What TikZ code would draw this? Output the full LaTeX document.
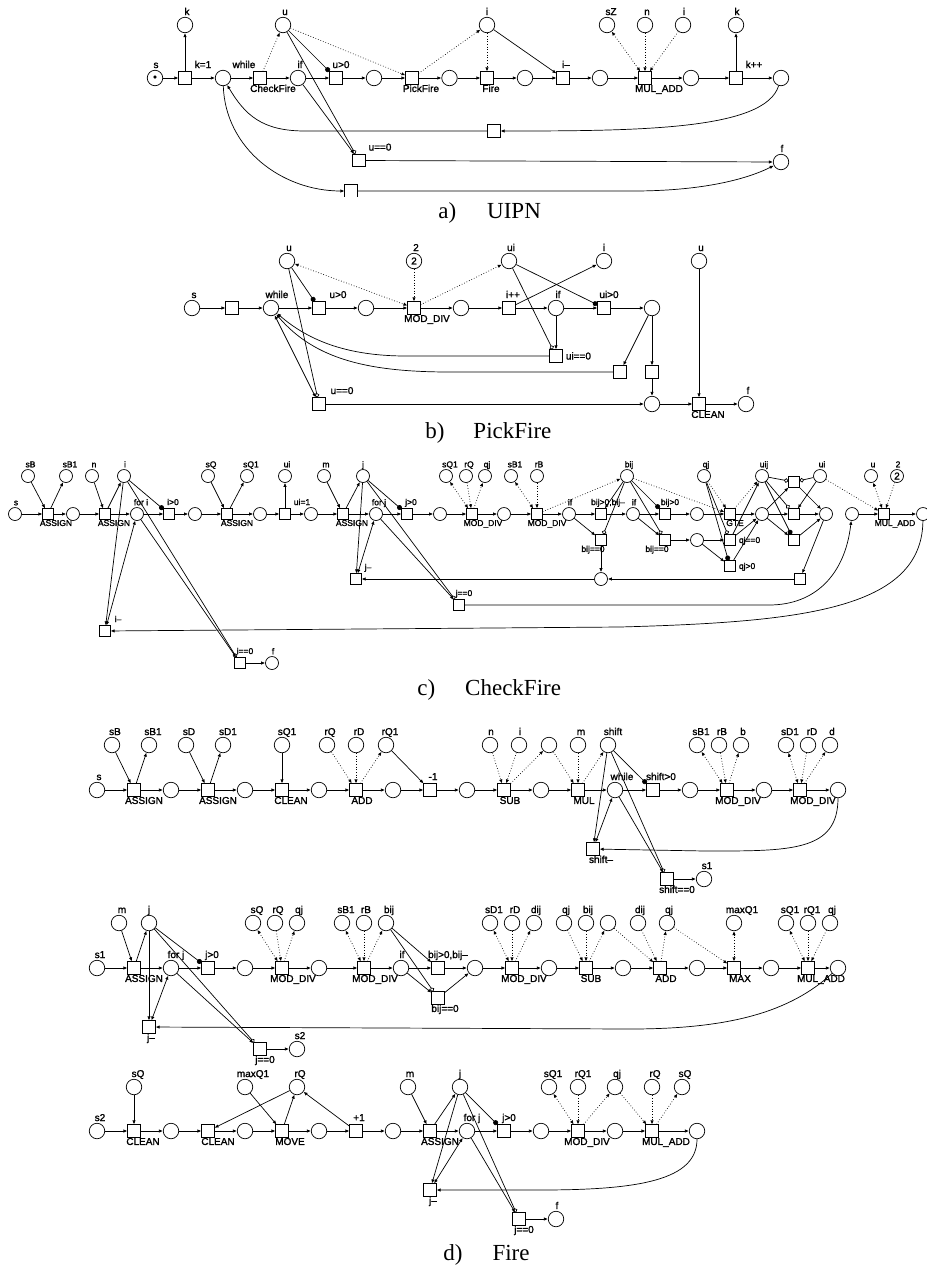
\documentclass[tikz,border=0pt]{standalone}
\usepackage{fontspec}
\setmainfont{Liberation Serif}
\newfontfamily\lblfont[Ligatures=TeX,FakeBold=1.5]{Liberation Sans}
\usetikzlibrary{positioning,arrows.meta}

\begin{document}
\begin{tikzpicture}[
        x=1pt, y=-1pt, on grid,
        >={Latex[length=4pt,width=3.4pt]},
        line width=0.7pt,
        every label/.style={font=\lblfont\fontsize{10}{12}\selectfont, inner sep=0pt, text height=7pt, text depth=0pt},
        place/.style={draw, circle, minimum size=15.5pt, inner sep=0pt, font=\lblfont\fontsize{10}{12}\selectfont},
        trans/.style={draw, rectangle, minimum size=12.5pt, inner sep=0pt},
        plab/.style 2 args={label={[anchor=south, xshift=#1pt, yshift=1.5pt]north:#2}},
        ulab/.style 2 args={label={[anchor=south, xshift=#1pt, yshift=3pt]north:#2}},
        tlab/.style 2 args={label={[anchor=north, xshift=#1pt]south:#2}},
        rlab/.style={label={[anchor=west, xshift=3pt]east:#1}},
        capt/.style={font=\fontsize{23}{25}\selectfont, anchor=base west, inner sep=0pt},
        arrow/.style={->},
        both/.style={<->},
        dotarrow/.style={->, dotted},
        dotboth/.style={<->, dotted},
        readdot/.style={-{Circle[length=5pt]}},
        readopen/.style={-{Circle[open, length=4.5pt, fill=white]}}
    ]
        \useasboundingbox (0,0) rectangle (927,1270);

        % a) main row
        \node[place, plab={1}{s}] (u1) at (155,78) {\textbullet};
        \node[trans, ulab={18}{k=1}, right=30pt of u1] (u2) {};
        \node[place, plab={21}{while}, right=38pt of u2] (u3) {};
        \node[trans, tlab={13}{CheckFire}, right=37pt of u3] (u4) {};
        \node[place, plab={2}{if}, right=38pt of u4] (u5) {};
        \node[trans, ulab={5}{u>0}, right=38pt of u5] (u6) {};
        \node[place, right=38pt of u6] (u7) {};
        \node[trans, tlab={9}{PickFire}, right=38pt of u7] (u8) {};
        \node[place, right=37.5pt of u8] (u9) {};
        \node[trans, tlab={4}{Fire}, right=37.5pt of u9] (u10) {};
        \node[place, right=38pt of u10] (u11) {};
        \node[trans, ulab={3}{i--}, right=38pt of u11] (u12) {};
        \node[place, right=37pt of u12] (u13) {};
        \node[trans, tlab={14}{MUL\_ADD}, right=45pt of u13] (u14) {};
        \node[place, right=46pt of u14] (u15) {};
        \node[trans, ulab={18}{k++}, right=45pt of u15] (u16) {};
        \node[place, right=45pt of u16] (u17) {};

        % a) variables and lower transitions
        \node[place, plab={2}{k}, above=53pt of u2] (uk) {};
        \node[place, plab={2}{u}, above right=53pt and 23pt of u4] (uu) {};
        \node[place, plab={0}{i}, above=53pt of u10] (ui) {};
        \node[place, plab={4}{sZ}, above left=53pt and 38pt of u14] (usz) {};
        \node[place, plab={2}{n}, above=53pt of u14] (un) {};
        \node[place, plab={1}{i}, above right=53pt and 38pt of u14] (ui2) {};
        \node[place, plab={1}{k}, above=53pt of u16] (uk2) {};
        \node[trans, below right=53pt and 7pt of u10] (uret) {};
        \node[trans, ulab={21}{u==0}, below right=82.5pt and 23pt of u6] (uzero) {};
        \node[trans, below right=113pt and 15pt of u6] (ulow) {};
        \node[place, plab={1}{f}, below=84pt of u17] (uf) {};

        % a) edges
        \draw[arrow] (u1) -- (u2);
        \draw[arrow] (u2) -- (uk);
        \draw[arrow] (u2) -- (u3);
        \draw[arrow] (u3) -- (u4);
        \draw[arrow] (u4) -- (u5);
        \draw[arrow] (u5) -- (u6);
        \draw[arrow] (u6) -- (u7);
        \draw[arrow] (u7) -- (u8);
        \draw[arrow] (u8) -- (u9);
        \draw[arrow] (u9) -- (u10);
        \draw[arrow] (u10) -- (u11);
        \draw[arrow] (u11) -- (u12);
        \draw[arrow] (u12) -- (u13);
        \draw[arrow] (u13) -- (u14);
        \draw[arrow] (u14) -- (u15);
        \draw[arrow] (u15) -- (u16);
        \draw[arrow] (u16) -- (u17);
        \draw[arrow] (u16) -- (uk2);
        \draw[dotarrow] (u4) -- (uu);
        \draw[dotarrow] (uu) -- (u8);
        \draw[dotarrow] (u8) -- (ui);
        \draw[dotarrow] (ui) -- (u10);
        \draw[arrow] (ui) -- (u12);
        \draw[readdot] (uu) -- (u6);
        \draw[readopen] (uu) -- (uzero);
        \draw[arrow] (u5) -- (uzero);
        \draw[dotboth] (usz) -- (u14);
        \draw[dotarrow] (un) -- (u14);
        \draw[dotarrow] (ui2) -- (u14);
        \draw[arrow] (uzero) -- (uf);
        \draw[arrow] (u17) .. controls (765,130) and (640,131) .. (uret);
        \draw[arrow] (uret) -- ++(-189,0) .. controls (262,131) and (245,115) .. (u3);
        \draw[arrow] (u3) to[out=-88, in=180] (ulow);
        \draw[arrow] (ulow) -- ++(282,0) .. controls (700,191) and (745,180) .. (uf);
        \fill[white] (340,196.6) rectangle (362,200);

        \node[capt] (capa) at (438,218) {a)\hspace{31pt}UIPN};

        % b) main row
        \node[place, plab={2}{s}] (p1) at (192,308) {};
        \node[trans, right=40pt of p1] (p2) {};
        \node[place, plab={6}{while}, right=39pt of p2] (p3) {};
        \node[trans, ulab={19}{u>0}, right=48pt of p3] (p4) {};
        \node[place, right=47pt of p4] (p5) {};
        \node[trans, tlab={13}{MOD\_DIV}, right=48pt of p5] (p6) {};
        \node[place, right=47pt of p6] (p7) {};
        \node[trans, ulab={4}{i++}, right=48pt of p7] (p8) {};
        \node[place, plab={2}{if}, right=47pt of p8] (p9) {};
        \node[trans, ulab={5}{ui>0}, right=48pt of p9] (p10) {};
        \node[place, right=48pt of p10] (p11) {};

        % b) variables and lower part
        \node[place, plab={2}{u}, above right=47pt and 16pt of p3] (pu) {};
        \node[place, plab={2}{2}, above=47pt of p6] (ptwo) {2};
        \node[place, plab={2}{ui}, above=47pt of p8] (pui) {};
        \node[place, plab={0}{i}, above=47pt of p10] (pi) {};
        \node[trans, ulab={23}{u==0}, below=96pt of p4] (pzero) {};
        \node[trans, rlab={ui==0}, below=48pt of p9] (pui0) {};
        \node[trans, below left=64pt and 32pt of p11] (pt1) {};
        \node[trans, below=64pt of p11] (pt2) {};
        \node[place, below=32pt of pt2] (pj) {};
        \node[trans, tlab={9}{CLEAN}, right=47pt of pj] (pclean) {};
        \node[place, plab={2}{f}, right=47pt of pclean] (pf) {};
        \node[place, plab={2}{u}, above=143pt of pclean] (pu2) {};

        % b) edges
        \draw[arrow] (p1) -- (p2);
        \draw[arrow] (p2) -- (p3);
        \draw[arrow] (p3) -- (p4);
        \draw[arrow] (p4) -- (p5);
        \draw[arrow] (p5) -- (p6);
        \draw[arrow] (p6) -- (p7);
        \draw[arrow] (p7) -- (p8);
        \draw[arrow] (p8) -- (p9);
        \draw[arrow] (p9) -- (p10);
        \draw[arrow] (p10) -- (p11);
        \draw[arrow] (p8) -- (pi);
        \draw[readdot] (pu) -- (p4);
        \draw[readopen] (pu) -- (pzero);
        \draw[both] (p3) -- (pzero);
        \draw[dotboth] (pu) -- (p6);
        \draw[dotarrow] (ptwo) -- (p6);
        \draw[dotarrow] (p6) -- (pui);
        \draw[readdot] (pui) -- (p10);
        \draw[readopen] (pui) -- (pui0);
        \draw[arrow] (p9) -- (pui0);
        \draw[arrow] (p11) -- (pt1);
        \draw[arrow] (p11) -- (pt2);
        \draw[arrow] (pt2) -- (pj);
        \draw[arrow] (pzero) -- (pj);
        \draw[arrow] (pj) -- (pclean);
        \draw[arrow] (pclean) -- (pf);
        \draw[arrow] (pu2) -- (pclean);
        \draw[arrow] (pui0) -- ++(-150,0) .. controls (350,356) and (310,342) .. (p3);
        \draw[arrow] (pt1) -- ++(-170,0) .. controls (370,372) and (315,360) .. (p3);
        \fill[white] (650,417.6) rectangle (760,425);

        \node[capt] (capb) at (425,438) {b)\hspace{29pt}PickFire};

        % c) smaller nodes in this row
        \begin{scope}[
            place/.append style={minimum size=13pt},
            trans/.append style={minimum size=10.5pt},
            every label/.append style={font=\lblfont\fontsize{8.5}{10}\selectfont, text height=6pt}
        ]
        \node[place, plab={1}{s}] (c1) at (15,514) {};
        \node[trans, tlab={8}{ASSIGN}, right=33pt of c1] (c2) {};
        \node[place, right=25pt of c2] (c3) {};
        \node[trans, tlab={9}{ASSIGN}, right=32pt of c3] (c4) {};
        \node[place, plab={4}{for i}, right=32pt of c4] (c5) {};
        \node[trans, ulab={4}{i>0}, right=32pt of c5] (c6) {};
        \node[place, right=26pt of c6] (c7) {};
        \node[trans, tlab={10}{ASSIGN}, right=32pt of c7] (c8) {};
        \node[place, right=33pt of c8] (c9) {};
        \node[trans, ulab={17}{ui=1}, right=25pt of c9] (c10) {};
        \node[place, right=26pt of c10] (c11) {};
        \node[trans, tlab={9}{ASSIGN}, right=32pt of c11] (c12) {};
        \node[place, plab={3}{for j}, right=33pt of c12] (c13) {};
        \node[trans, ulab={4}{j>0}, right=31pt of c13] (c14) {};
        \node[place, right=33pt of c14] (c15) {};
        \node[trans, tlab={11}{MOD\_DIV}, right=32pt of c15] (c16) {};
        \node[place, right=32pt of c16] (c17) {};
        \node[trans, tlab={10}{MOD\_DIV}, right=33pt of c17] (c18) {};
        \node[place, plab={1}{if}, right=32pt of c18] (c19) {};
        \node[trans, ulab={7}{bij>0,bij--}, right=32pt of c19] (c20) {};
        \node[place, plab={1}{if}, right=32pt of c20] (c21) {};
        \node[trans, ulab={5}{bij>0}, right=32pt of c21] (c22) {};
        \node[place, right=32pt of c22] (c23) {};
        \node[trans, tlab={5}{GTE}, right=33pt of c23] (c24) {};
        \node[place, right=32pt of c24] (c25) {};
        \node[trans, right=32pt of c25] (c26) {};
        \node[place, right=32pt of c26] (c27) {};
        \node[place, right=26pt of c27] (c28) {};
        \node[trans, tlab={11}{MUL\_ADD}, right=32pt of c28] (c29) {};
        \node[place, right=39pt of c29] (c30) {};

        % c) variables above the row
        \node[place, plab={2.5}{sB}, above left=38pt and 20pt of c2] (csb) {};
        \node[place, plab={4}{sB1}, above right=38pt and 18pt of c2] (csb1) {};
        \node[place, plab={2}{n}, above left=38pt and 13pt of c4] (cn) {};
        \node[place, plab={1}{i}, above right=38pt and 19pt of c4] (ci) {};
        \node[place, plab={3}{sQ}, above left=38pt and 19pt of c8] (csq) {};
        \node[place, plab={4}{sQ1}, above right=38pt and 20pt of c8] (csq1) {};
        \node[place, plab={2}{ui}, above=38pt of c10] (cui) {};
        \node[place, plab={2}{m}, above left=38pt and 19pt of c12] (cm) {};
        \node[place, plab={0}{j}, above right=38pt and 20pt of c12] (cj) {};
        \node[place, plab={4}{sQ1}, above left=38pt and 26pt of c16] (csq2) {};
        \node[place, plab={3}{rQ}, above left=38pt and 6pt of c16] (crq) {};
        \node[place, plab={2}{qj}, above right=38pt and 13pt of c16] (cqj) {};
        \node[place, plab={4}{sB1}, above left=38pt and 26pt of c18] (csb2) {};
        \node[place, plab={2}{rB}, above=38pt of c18] (crb) {};
        \node[place, plab={2}{bij}, above right=38pt and 26pt of c20] (cbij) {};
        \node[place, plab={2}{qj}, above left=38pt and 26pt of c24] (cqj2) {};
        \node[place, plab={2}{uij}, above=38pt of c25] (cuij) {};
        \node[place, plab={2}{ui}, above right=38pt and 26pt of c26] (cul) {};
        \node[place, plab={2}{u}, above left=38pt and 13pt of c29] (cu) {};
        \node[place, plab={1}{2}, above right=38pt and 13pt of c29] (ctwo) {2};

        % c) transitions below the row
        \node[trans, ulab={13}{i--}, below=117pt of c4] (cdec) {};
        \node[trans, ulab={5}{i==0}, below right=149pt and 13pt of c8] (czero) {};
        \node[place, plab={1}{f}, right=32pt of czero] (cf) {};
        \node[trans, ulab={12}{j--}, below right=65pt and 13pt of c12] (cdec2) {};
        \node[trans, ulab={5}{j==0}, below right=91pt and 19pt of c15] (cj0) {};
        \node[trans, tlab={-8}{bij==0}, below=26pt of c20] (cb0) {};
        \node[place, below=39pt of cb0] (cm1) {};
        \node[trans, tlab={-8}{bij==0}, below=26pt of c22] (cc0) {};
        \node[place, right=32pt of cc0] (cc1) {};
        \node[trans, rlab={qj==0}, right=33pt of cc1] (cc2) {};
        \node[trans, rlab={qj>0}, below=26pt of cc2] (cc3) {};
        \node[trans, below=26pt of c26] (cc4) {};
        \node[trans, above=32pt of c26] (cc5) {};
        \node[trans, below right=65pt and 6pt of c26] (cc6) {};
        \end{scope}

        % c) row edges
        \draw[arrow] (c1) -- (c2);
        \draw[arrow] (c2) -- (c3);
        \draw[arrow] (c3) -- (c4);
        \draw[arrow] (c4) -- (c5);
        \draw[arrow] (c5) -- (c6);
        \draw[arrow] (c6) -- (c7);
        \draw[arrow] (c7) -- (c8);
        \draw[arrow] (c8) -- (c9);
        \draw[arrow] (c9) -- (c10);
        \draw[arrow] (c10) -- (c11);
        \draw[arrow] (c11) -- (c12);
        \draw[arrow] (c12) -- (c13);
        \draw[arrow] (c13) -- (c14);
        \draw[arrow] (c14) -- (c15);
        \draw[arrow] (c15) -- (c16);
        \draw[arrow] (c16) -- (c17);
        \draw[arrow] (c17) -- (c18);
        \draw[arrow] (c18) -- (c19);
        \draw[arrow] (c19) -- (c20);
        \draw[arrow] (c20) -- (c21);
        \draw[arrow] (c21) -- (c22);
        \draw[arrow] (c22) -- (c23);
        \draw[arrow] (c23) -- (c24);
        \draw[arrow] (c24) -- (c25);
        \draw[arrow] (c25) -- (c26);
        \draw[arrow] (c26) -- (c27);
        \draw[arrow] (c28) -- (c29);
        \draw[arrow] (c29) -- (c30);

        % c) first half
        \draw[arrow] (csb) -- (c2);
        \draw[arrow] (c2) -- (csb1);
        \draw[arrow] (cn) -- (c4);
        \draw[arrow] (c4) -- (ci);
        \draw[readdot] (ci) -- (c6);
        \draw[arrow] (ci) -- (cdec);
        \draw[both] (c5) -- (cdec);
        \draw[readopen] (ci) -- (czero);
        \draw[arrow] (c5) -- (czero);
        \draw[arrow] (czero) -- (cf);
        \draw[arrow] (csq) -- (c8);
        \draw[arrow] (c8) -- (csq1);
        \draw[arrow] (c10) -- (cui);
        \draw[arrow] (cm) -- (c12);
        \draw[arrow] (c12) -- (cj);
        \draw[readdot] (cj) -- (c14);
        \draw[arrow] (cj) -- (cdec2);
        \draw[both] (c13) -- (cdec2);
        \draw[readopen] (cj) -- (cj0);
        \draw[arrow] (c13) -- (cj0);
        \draw[dotboth] (csq2) -- (c16);
        \draw[dotarrow] (crq) -- (c16);
        \draw[dotarrow] (c16) -- (cqj);
        \draw[dotboth] (csb2) -- (c18);
        \draw[dotarrow] (crb) -- (c18);
        \draw[dotarrow] (c18) -- (cbij);

        % c) second half
        \draw[arrow] (c19) -- (cb0);
        \draw[arrow] (cbij) -- (c20);
        \draw[readopen] (cbij) -- (cb0);
        \draw[arrow] (cb0) -- (cm1);
        \draw[arrow] (cm1) -- (cdec2);
        \draw[arrow] (cc6) -- (cm1);
        \draw[arrow] (c21) -- (cc0);
        \draw[readdot] (cbij) -- (c22);
        \draw[readopen] (cbij) -- (cc0);
        \draw[arrow] (cc0) -- (cc1);
        \draw[arrow] (cc1) -- (cc2);
        \draw[arrow] (cc1) -- (cc3);
        \draw[dotarrow] (cbij) -- (c24);
        \draw[dotarrow] (cqj2) -- (c24);
        \draw[dotarrow] (c24) -- (cuij);
        \draw[readopen] (cqj2) -- (cc2);
        \draw[readdot] (cqj2) -- (cc3);
        \draw[arrow] (cc2) -- (cuij);
        \draw[arrow] (cc2) -- (c25);
        \draw[arrow] (cc3) -- (c25);
        \draw[arrow] (c25) -- (cc4);
        \draw[arrow] (c25) -- (cc5);
        \draw[readopen] (cuij) -- (cc5);
        \draw[readopen] (cuij) -- (c26);
        \draw[readdot] (cuij) -- (cc4);
        \draw[readopen] (cul) -- (cc5);
        \draw[arrow] (cul) -- (c26);
        \draw[arrow] (cc5) -- (c27);
        \draw[arrow] (cc4) -- (c27);
        \draw[arrow] (c27) -- (cc6);
        \draw[dotarrow] (cul) -- (c29);
        \draw[dotboth] (cu) -- (c29);
        \draw[dotarrow] (ctwo) -- (c29);
        \draw[arrow] (cj0) -- ++(310,0) .. controls (815,605) and (845,575) .. (c28);
        \draw[arrow] (c30) .. controls (922,610) and (800,622) .. (620,627) -- (cdec);

        \node[capt] (capc) at (417,695) {c)\hspace{30pt}CheckFire};

        % d) first row
        \node[place, plab={2}{s}] (e1) at (97,790) {};
        \node[trans, tlab={10}{ASSIGN}, right=37pt of e1] (e2) {};
        \node[place, right=37pt of e2] (e3) {};
        \node[trans, tlab={10}{ASSIGN}, right=37pt of e3] (e4) {};
        \node[place, right=37pt of e4] (e5) {};
        \node[trans, tlab={9}{CLEAN}, right=37pt of e5] (e6) {};
        \node[place, right=37pt of e6] (e7) {};
        \node[trans, tlab={6}{ADD}, right=37pt of e7] (e8) {};
        \node[place, right=37pt of e8] (e9) {};
        \node[trans, ulab={3}{-1}, right=37pt of e9] (e10) {};
        \node[place, right=37pt of e10] (e11) {};
        \node[trans, tlab={6}{SUB}, right=37pt of e11] (e12) {};
        \node[place, right=37pt of e12] (e13) {};
        \node[trans, tlab={6}{MUL}, right=37pt of e13] (e14) {};
        \node[place, plab={7}{while}, right=37pt of e14] (e15) {};
        \node[trans, ulab={8}{shift>0}, right=38pt of e15] (e16) {};
        \node[place, right=37pt of e16] (e17) {};
        \node[trans, tlab={11}{MOD\_DIV}, right=37pt of e17] (e18) {};
        \node[place, right=37pt of e18] (e19) {};
        \node[trans, tlab={13}{MOD\_DIV}, right=36pt of e19] (e20) {};
        \node[place, right=38pt of e20] (e21) {};

        % d) first row variables
        \node[place, plab={3}{sB}, above left=45pt and 22pt of e2] (esb) {};
        \node[place, plab={4}{sB1}, above right=45pt and 15pt of e2] (esb1) {};
        \node[place, plab={3}{sD}, above left=45pt and 22pt of e4] (esd) {};
        \node[place, plab={5}{sD1}, above right=45pt and 15pt of e4] (esd1) {};
        \node[place, plab={5}{sQ1}, above=45pt of e6] (esq) {};
        \node[place, plab={3}{rQ}, above left=45pt and 29pt of e8] (erq) {};
        \node[place, plab={3}{rD}, above=45pt of e8] (erd) {};
        \node[place, plab={4}{rQ1}, above right=45pt and 30pt of e8] (erq1) {};
        \node[place, plab={1}{n}, above left=45pt and 14pt of e12] (en) {};
        \node[place, plab={1}{i}, above right=45pt and 15pt of e12] (ei) {};
        \node[place, above left=45pt and 29pt of e14] (eb) {};
        \node[place, plab={3}{m}, above=45pt of e14] (em) {};
        \node[place, plab={5}{shift}, above right=45pt and 30pt of e14] (eshift) {};
        \node[place, plab={4}{sB1}, above left=45pt and 30pt of e18] (esb2) {};
        \node[place, plab={3}{rB}, above left=45pt and 8pt of e18] (erb) {};
        \node[place, plab={2}{b}, above right=45pt and 14pt of e18] (ebb) {};
        \node[place, plab={4}{sD1}, above left=45pt and 14pt of e20] (esd2) {};
        \node[place, plab={4}{rD}, above right=45pt and 8pt of e20] (erd2) {};
        \node[place, plab={2}{d}, above right=45pt and 30pt of e20] (ed) {};
        \node[trans, tlab={8}{shift--}, below left=59pt and 22pt of e15] (edec) {};
        \node[trans, tlab={10}{shift==0}, below right=89pt and 14pt of e16] (ezero) {};
        \node[place, plab={3}{s1}, right=37pt of ezero] (es1) {};

        % d) first row edges
        \draw[arrow] (e1) -- (e2);
        \draw[arrow] (e2) -- (e3);
        \draw[arrow] (e3) -- (e4);
        \draw[arrow] (e4) -- (e5);
        \draw[arrow] (e5) -- (e6);
        \draw[arrow] (e6) -- (e7);
        \draw[arrow] (e7) -- (e8);
        \draw[arrow] (e8) -- (e9);
        \draw[arrow] (e9) -- (e10);
        \draw[arrow] (e10) -- (e11);
        \draw[arrow] (e11) -- (e12);
        \draw[arrow] (e12) -- (e13);
        \draw[arrow] (e13) -- (e14);
        \draw[arrow] (e14) -- (e15);
        \draw[arrow] (e15) -- (e16);
        \draw[arrow] (e16) -- (e17);
        \draw[arrow] (e17) -- (e18);
        \draw[arrow] (e18) -- (e19);
        \draw[arrow] (e19) -- (e20);
        \draw[arrow] (e20) -- (e21);
        \draw[arrow] (esb) -- (e2);
        \draw[arrow] (e2) -- (esb1);
        \draw[arrow] (esd) -- (e4);
        \draw[arrow] (e4) -- (esd1);
        \draw[arrow] (esq) -- (e6);
        \draw[dotarrow] (erq) -- (e8);
        \draw[dotarrow] (erd) -- (e8);
        \draw[dotarrow] (e8) -- (erq1);
        \draw[arrow] (erq1) -- (e10);
        \draw[dotarrow] (en) -- (e12);
        \draw[dotarrow] (ei) -- (e12);
        \draw[dotarrow] (e12) -- (eb);
        \draw[dotarrow] (eb) -- (e14);
        \draw[dotarrow] (em) -- (e14);
        \draw[dotarrow] (e14) -- (eshift);
        \draw[readdot] (eshift) -- (e16);
        \draw[arrow] (eshift) -- (edec);
        \draw[both] (e15) -- (edec);
        \draw[readopen] (eshift) -- (ezero);
        \draw[arrow] (e15) -- (ezero);
        \draw[arrow] (ezero) -- (es1);
        \draw[dotboth] (esb2) -- (e18);
        \draw[dotarrow] (erb) -- (e18);
        \draw[dotarrow] (e18) -- (ebb);
        \draw[dotboth] (esd2) -- (e20);
        \draw[dotarrow] (erd2) -- (e20);
        \draw[dotarrow] (e20) -- (ed);
        \draw[arrow] (e21) .. controls (838,852) and (790,851) .. (705,851) -- (edec);

        % d) second row
        \node[place, plab={3}{s1}] (f1) at (97,968) {};
        \node[trans, tlab={10}{ASSIGN}, right=37pt of f1] (f2) {};
        \node[place, plab={5}{for j}, right=37pt of f2] (f3) {};
        \node[trans, ulab={4}{j>0}, right=37pt of f3] (f4) {};
        \node[place, right=37pt of f4] (f5) {};
        \node[trans, tlab={11}{MOD\_DIV}, right=37pt of f5] (f6) {};
        \node[place, right=37pt of f6] (f7) {};
        \node[trans, tlab={11}{MOD\_DIV}, right=45pt of f7] (f8) {};
        \node[place, plab={1}{if}, right=37pt of f8] (f9) {};
        \node[trans, ulab={10}{bij>0,bij--}, right=37pt of f9] (f10) {};
        \node[place, right=37pt of f10] (f11) {};
        \node[trans, tlab={12}{MOD\_DIV}, right=37pt of f11] (f12) {};
        \node[place, right=37pt of f12] (f13) {};
        \node[trans, tlab={5}{SUB}, right=37pt of f13] (f14) {};
        \node[place, right=37pt of f14] (f15) {};
        \node[trans, tlab={6}{ADD}, right=37pt of f15] (f16) {};
        \node[place, right=37pt of f16] (f17) {};
        \node[trans, tlab={6}{MAX}, right=37pt of f17] (f18) {};
        \node[place, right=37pt of f18] (f19) {};
        \node[trans, tlab={13}{MUL\_ADD}, right=37pt of f19] (f20) {};
        \node[place, right=30pt of f20] (f21) {};

        % d) second row variables
        \node[place, plab={3}{m}, above left=45pt and 15pt of f2] (fm) {};
        \node[place, plab={0}{j}, above right=45pt and 15pt of f2] (fj) {};
        \node[place, plab={4}{sQ}, above left=45pt and 29pt of f6] (fsq) {};
        \node[place, plab={3}{rQ}, above left=45pt and 7pt of f6] (frq) {};
        \node[place, plab={2}{qj}, above right=45pt and 15pt of f6] (fqj) {};
        \node[place, plab={4}{sB1}, above left=45pt and 22pt of f8] (fsb) {};
        \node[place, plab={2}{rB}, above=45pt of f8] (frb) {};
        \node[place, plab={3}{bij}, above right=45pt and 22pt of f8] (fbij) {};
        \node[place, plab={4}{sD1}, above left=45pt and 22pt of f12] (fsd) {};
        \node[place, plab={3}{rD}, above=45pt of f12] (frd) {};
        \node[place, plab={2}{dij}, above right=45pt and 22pt of f12] (fdij) {};
        \node[place, plab={2}{qj}, above left=45pt and 22pt of f14] (fqj2) {};
        \node[place, plab={2}{bij}, above=45pt of f14] (fbij2) {};
        \node[place, above right=45pt and 22pt of f14] (fb) {};
        \node[place, plab={2}{dij}, above left=45pt and 22pt of f16] (fdij2) {};
        \node[place, plab={2}{qj}, above right=45pt and 7pt of f16] (fqj3) {};
        \node[place, plab={8}{maxQ1}, above=45pt of f18] (fmax) {};
        \node[place, plab={4}{sQ1}, above left=45pt and 22pt of f20] (fsq1) {};
        \node[place, plab={4}{rQ1}, above=45pt of f20] (frq1) {};
        \node[place, plab={2}{qj}, above right=45pt and 22pt of f20] (fqj4) {};
        \node[trans, tlab={7}{bij==0}, below=30pt of f10] (fb0) {};
        \node[trans, tlab={2}{j--}, below right=59pt and 15pt of f2] (fdec) {};
        \node[trans, tlab={5}{j==0}, below right=81pt and 15pt of f5] (fzero) {};
        \node[place, plab={3}{s2}, right=37pt of fzero] (fs2) {};

        % d) second row edges
        \draw[arrow] (f1) -- (f2);
        \draw[arrow] (f2) -- (f3);
        \draw[arrow] (f3) -- (f4);
        \draw[arrow] (f4) -- (f5);
        \draw[arrow] (f5) -- (f6);
        \draw[arrow] (f6) -- (f7);
        \draw[arrow] (f7) -- (f8);
        \draw[arrow] (f8) -- (f9);
        \draw[arrow] (f9) -- (f10);
        \draw[arrow] (f10) -- (f11);
        \draw[arrow] (f11) -- (f12);
        \draw[arrow] (f12) -- (f13);
        \draw[arrow] (f13) -- (f14);
        \draw[arrow] (f14) -- (f15);
        \draw[arrow] (f15) -- (f16);
        \draw[arrow] (f16) -- (f17);
        \draw[arrow] (f17) -- (f18);
        \draw[arrow] (f18) -- (f19);
        \draw[arrow] (f19) -- (f20);
        \draw[arrow] (f20) -- (f21);
        \draw[arrow] (fm) -- (f2);
        \draw[arrow] (f2) -- (fj);
        \draw[readdot] (fj) -- (f4);
        \draw[arrow] (fj) -- (fdec);
        \draw[both] (f3) -- (fdec);
        \draw[readopen] (fj) -- (fzero);
        \draw[arrow] (f3) -- (fzero);
        \draw[arrow] (fzero) -- (fs2);
        \draw[dotboth] (fsq) -- (f6);
        \draw[dotarrow] (frq) -- (f6);
        \draw[dotarrow] (f6) -- (fqj);
        \draw[dotboth] (fsb) -- (f8);
        \draw[dotarrow] (frb) -- (f8);
        \draw[dotarrow] (f8) -- (fbij);
        \draw[arrow] (f9) -- (fb0);
        \draw[arrow] (fbij) -- (f10);
        \draw[readopen] (fbij) -- (fb0);
        \draw[arrow] (fb0) -- (f11);
        \draw[dotboth] (fsd) -- (f12);
        \draw[dotarrow] (frd) -- (f12);
        \draw[dotarrow] (f12) -- (fdij);
        \draw[dotarrow] (fqj2) -- (f14);
        \draw[dotarrow] (fbij2) -- (f14);
        \draw[dotarrow] (f14) -- (fb);
        \draw[dotarrow] (fb) -- (f16);
        \draw[dotarrow] (fdij2) -- (f16);
        \draw[dotarrow] (f16) -- (fqj3);
        \draw[dotarrow] (fqj3) -- (f18);
        \draw[dotboth] (fmax) -- (f18);
        \draw[dotboth] (fsq1) -- (f20);
        \draw[dotarrow] (frq1) -- (f20);
        \draw[dotarrow] (fqj4) -- (f20);
        \draw[arrow] (f21) .. controls (790,1012) and (730,1029) .. (630,1029) -- (fdec);

        % d) third row
        \node[place, plab={3}{s2}] (g1) at (97,1131) {};
        \node[trans, tlab={9}{CLEAN}, right=37pt of g1] (g2) {};
        \node[place, right=37pt of g2] (g3) {};
        \node[trans, tlab={10}{CLEAN}, right=37pt of g3] (g4) {};
        \node[place, right=37pt of g4] (g5) {};
        \node[trans, tlab={8}{MOVE}, right=37pt of g5] (g6) {};
        \node[place, right=37pt of g6] (g7) {};
        \node[trans, ulab={3}{+1}, right=37pt of g7] (g8) {};
        \node[place, right=37pt of g8] (g9) {};
        \node[trans, tlab={10}{ASSIGN}, right=37pt of g9] (g10) {};
        \node[place, plab={5}{for j}, right=37pt of g10] (g11) {};
        \node[trans, ulab={5}{j>0}, right=37pt of g11] (g12) {};
        \node[place, right=37pt of g12] (g13) {};
        \node[trans, tlab={9}{MOD\_DIV}, right=37pt of g13] (g14) {};
        \node[place, right=37pt of g14] (g15) {};
        \node[trans, tlab={14}{MUL\_ADD}, right=37pt of g15] (g16) {};
        \node[place, right=45pt of g16] (g17) {};

        % d) third row variables
        \node[place, plab={4}{sQ}, above=44pt of g2] (gsq) {};
        \node[place, plab={8}{maxQ1}, above left=44pt and 37pt of g6] (gmax) {};
        \node[place, plab={3}{rQ}, above right=44pt and 15pt of g6] (grq) {};
        \node[place, plab={2}{m}, above left=44pt and 22pt of g10] (gm) {};
        \node[place, plab={0}{j}, above right=44pt and 30pt of g10] (gj) {};
        \node[place, plab={4}{sQ1}, above left=44pt and 29pt of g14] (gsq1) {};
        \node[place, plab={5}{rQ1}, above=44pt of g14] (grq1) {};
        \node[place, plab={2}{qj}, above right=44pt and 37pt of g14] (gqj) {};
        \node[place, plab={3}{rQ}, above=44pt of g16] (grq2) {};
        \node[place, plab={3}{sQ}, above right=44pt and 30pt of g16] (gsq2) {};
        \node[trans, tlab={3}{j--}, below=59pt of g10] (gdec) {};
        \node[trans, tlab={5}{j==0}, below right=88pt and 15pt of g12] (gzero) {};
        \node[place, plab={1}{f}, right=37pt of gzero] (gf) {};

        % d) third row edges
        \draw[arrow] (g1) -- (g2);
        \draw[arrow] (g2) -- (g3);
        \draw[arrow] (g3) -- (g4);
        \draw[arrow] (g4) -- (g5);
        \draw[arrow] (g5) -- (g6);
        \draw[arrow] (g6) -- (g7);
        \draw[arrow] (g7) -- (g8);
        \draw[arrow] (g8) -- (g9);
        \draw[arrow] (g9) -- (g10);
        \draw[arrow] (g10) -- (g11);
        \draw[arrow] (g11) -- (g12);
        \draw[arrow] (g12) -- (g13);
        \draw[arrow] (g13) -- (g14);
        \draw[arrow] (g14) -- (g15);
        \draw[arrow] (g15) -- (g16);
        \draw[arrow] (g16) -- (g17);
        \draw[arrow] (gsq) -- (g2);
        \draw[arrow] (grq) -- (g4);
        \draw[arrow] (gmax) -- (g6);
        \draw[arrow] (g6) -- (grq);
        \draw[arrow] (g8) -- (grq);
        \draw[arrow] (gm) -- (g10);
        \draw[arrow] (g10) -- (gj);
        \draw[readdot] (gj) -- (g12);
        \draw[arrow] (gj) -- (gdec);
        \draw[both] (g11) -- (gdec);
        \draw[readopen] (gj) -- (gzero);
        \draw[arrow] (g11) -- (gzero);
        \draw[arrow] (gzero) -- (gf);
        \draw[dotboth] (gsq1) -- (g14);
        \draw[dotarrow] (grq1) -- (g14);
        \draw[dotarrow] (g14) -- (gqj);
        \draw[dotarrow] (gqj) -- (g16);
        \draw[dotarrow] (grq2) -- (g16);
        \draw[dotarrow] (g16) -- (gsq2);
        \draw[arrow] (g17) .. controls (697,1180) and (640,1190) .. (540,1190) -- (gdec);

        \node[capt] (capd) at (443,1260) {d)\hspace{30pt}Fire};
    \end{tikzpicture}
\end{document}
